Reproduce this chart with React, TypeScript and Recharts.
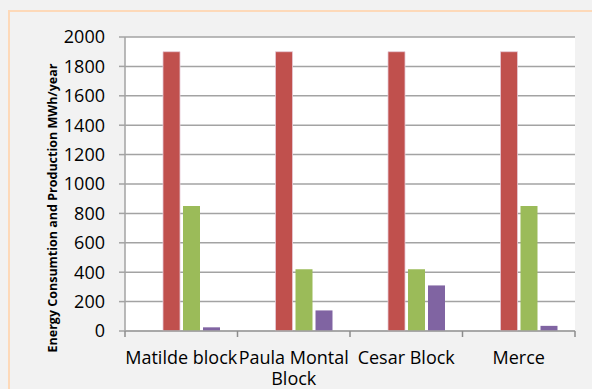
// Energy consumption vs production per block — clustered columns
import { BarChart, Bar, XAxis, YAxis, CartesianGrid } from "recharts";

const blocks = ["Matilde block", "Paula Montal Block", "Cesar Block", "Merce"];
const seriesBase = [0, 0, 0, 0];          // first (blue) series is empty in the source
const consumption = [1900, 1900, 1900, 1900];
const production = [850, 420, 420, 850];
const extra = [25, 140, 310, 35];
const yTicks = [0, 200, 400, 600, 800, 1000, 1200, 1400, 1600, 1800, 2000];

const data = blocks.map((name, i) => ({
  name,
  s1: seriesBase[i],
  s2: consumption[i],
  s3: production[i],
  s4: extra[i],
}));

const FONT = "'Open Sans', sans-serif";
const GRID = "#a3a3a3";
const LABEL_GAP = 20;

// category label (wrapped like the original) plus tick marks on the band edges
function CategoryTick(props: any) {
  const { x, y, payload, index, visibleTicksCount, width } = props;
  const half = payload.offset || width / visibleTicksCount / 2;
  const axisY = y - LABEL_GAP;
  const words = String(payload.value).split(" ");
  const lines: string[] = [];
  let cur = "";
  words.forEach((w) => {
    const next = cur ? cur + " " + w : w;
    if (next.length > 13 && cur) {
      lines.push(cur);
      cur = w;
    } else cur = next;
  });
  if (cur) lines.push(cur);
  return (
    <g>
      <line x1={x - half} x2={x - half} y1={axisY} y2={axisY + 6} stroke="#8c8c8c" strokeWidth={1.5} />
      {index === visibleTicksCount - 1 && (
        <line x1={x + half} x2={x + half} y1={axisY} y2={axisY + 6} stroke="#8c8c8c" strokeWidth={1.5} />
      )}
      <text x={x} y={y} textAnchor="middle" fill="#000" fontSize={18} fontFamily={FONT}>
        {lines.map((l, i) => (
          <tspan key={i} x={x} dy={i === 0 ? "0.71em" : 21}>{l}</tspan>
        ))}
      </text>
    </g>
  );
}

export default function App() {
  return (
    <div style={{ position: "absolute", left: 0, top: 0, width: 592, height: 389, background: "#f2f2f2", overflow: "hidden" }}>
      <div style={{ position: "absolute", left: 8, top: 10, width: 640, height: 440, borderLeft: "2px solid #fdd9b9", borderTop: "2px solid #fdd9b9" }} />
      <div style={{ position: "absolute", left: 0, top: 0 }}>
        <BarChart width={592} height={389} data={data}
          margin={{ top: 37, right: 17, left: 65, bottom: 0 }}
          barCategoryGap={18} barGap={3}>
          <CartesianGrid vertical={false} stroke={GRID} strokeWidth={1.5} fill="#ffffff" />
          <XAxis dataKey="name" tickLine={false} tickSize={0} tickMargin={LABEL_GAP}
            axisLine={{ stroke: GRID, strokeWidth: 1.5 }} height={58} interval={0} tick={<CategoryTick />} />
          <YAxis width={60} domain={[0, 2000]} ticks={yTicks} interval={0}
            tickSize={6} tickMargin={14}
            axisLine={{ stroke: GRID, strokeWidth: 1.5 }} tickLine={{ stroke: GRID, strokeWidth: 1.5 }}
            tick={{ fill: "#000", fontSize: 18, fontFamily: FONT }}
            label={{
              content: () => (
                <text x={52} y={208} transform="rotate(-90, 52, 208)" textAnchor="middle"
                  dominantBaseline="central" fontSize={12.5} fontWeight="bold" fontFamily={FONT} fill="#000">
                  Energy Consumtion and Production MWh/year
                </text>
              ),
            }} />
          <Bar dataKey="s1" fill="#4f81bd" isAnimationActive={false} />
          <Bar dataKey="s2" fill="#c0504d" stroke="#e6c9d6" strokeWidth={0.8} isAnimationActive={false} />
          <Bar dataKey="s3" fill="#9bbb59" isAnimationActive={false} />
          <Bar dataKey="s4" fill="#8064a2" isAnimationActive={false} />
        </BarChart>
      </div>
    </div>
  );
}
